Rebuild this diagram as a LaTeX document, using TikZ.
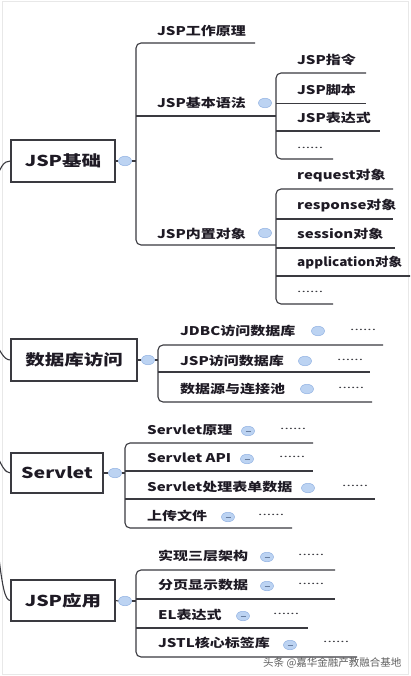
\documentclass[tikz,border=0pt]{standalone}
\usepackage{fontspec}
\setmainfont{Noto Sans CJK SC}
\usetikzlibrary{shapes.geometric}
\definecolor{ln}{HTML}{3A3A40}
\definecolor{tx}{HTML}{1E1A24}
\definecolor{bfill}{HTML}{BCD3F2}
\definecolor{bdraw}{HTML}{93B3E3}
\newcommand\wx[2][1.25]{\scalebox{#1}[1]{#2}}
\tikzset{
 line/.style={draw=ln, line width=1.1pt, rounded corners=5pt},
 rootbox/.style={draw=ln, line width=1.1pt, fill=white, inner sep=0pt, text=tx, font=\fontsize{15}{18}\selectfont\bfseries},
 topic/.style={anchor=west, inner sep=0pt, text=tx, font=\fontsize{12}{14}\selectfont\bfseries},
 more/.style={anchor=west, inner sep=0pt, text=ln, font=\fontsize{10}{11}\selectfont},
 knob/.style={ellipse, fill=bfill, draw=bdraw, line width=0.5pt, minimum width=13pt, minimum height=9.5pt, inner sep=0pt},
 knobm/.style={knob, path picture={\draw[bdraw!70!black, line width=0.5pt] ([xshift=-2.5pt]path picture bounding box.center) -- ([xshift=2.5pt]path picture bounding box.center);}},
}
\newcommand\moredots{\wx[1.55]{......}}
\begin{document}
\begin{tikzpicture}[x=1pt,y=-1pt]
\useasboundingbox (0,0) rectangle (410,676);
\clip (0,0) rectangle (410,676);
\fill[white] (0,0) rectangle (410,676);
\draw[gray!18, line width=1pt] (2,2) rectangle (408,674);

% ---------- root boxes ----------
\node[rootbox, minimum width=104pt, minimum height=42pt] (b1) at (63,161) {\wx[1.3]{JSP基础}};
\node[rootbox, minimum width=126pt, minimum height=42pt] (b2) at (74,360) {\wx[1.3]{数据库访问}};
\node[rootbox, minimum width=92pt, minimum height=40pt] (b3) at (57,473) {\wx[1.3]{Servlet}};
\node[rootbox, minimum width=104pt, minimum height=41pt] (b4) at (63,600.5) {\wx[1.3]{JSP应用}};

% left incoming curves
\coordinate (c1) at (-6,190);
\coordinate (c2) at (-9,333);
\coordinate (c3) at (-8,443);
\coordinate (c4) at (-3,540);
\draw[line] (c1) .. controls (-1,166) and (4,161) .. (b1.west);
\draw[line] (c2) .. controls (0,352) and (4,360) .. (b2.west);
\draw[line] (c3) .. controls (1,466) and (5,473) .. (b3.west);
\draw[line] (c4) .. controls (2,588) and (5,600.5) .. (b4.west);

% ---------- section 1 ----------
\node[knob] (k1) at (125,161) {};
\coordinate (j1) at (136,161);
\draw[line] (b1.east) -- (k1.west);
\draw[line] (k1.east) -- (j1);
\coordinate (a1) at (255,43);
\coordinate (a2) at (136,43);
\coordinate (a3) at (136,245);
\coordinate (a4) at (276,245);
\coordinate (am1) at (136,116);
\coordinate (am2) at (276,116);
\draw[line] (a1) -- (a2) -- (a3) -- (a4);
\draw[line] (am1) -- (am2);

\node[topic] (t11) at (157,31) {\wx{JSP工作原理}};
\node[topic] (t12) at (157,103) {\wx{JSP基本语法}};
\node[knob] (k12) at (265,103) {};
\node[topic] (t13) at (157,234) {\wx{JSP内置对象}};
\node[knob] (k13) at (265,233) {};

% sub bracket 1
\coordinate (p1) at (366,73);
\coordinate (p2) at (276,73);
\coordinate (p3) at (276,159);
\coordinate (p4) at (333,159);
\coordinate (pm1) at (276,103.5);
\coordinate (pm2) at (366,103.5);
\coordinate (pn1) at (276,131);
\coordinate (pn2) at (380,131);
\draw[line] (p1) -- (p2) -- (p3) -- (p4);
\draw[line] (pm1) -- (pm2);
\draw[line] (pn1) -- (pn2);
\node[topic] (u1) at (297,60) {\wx{JSP指令}};
\node[topic] (u2) at (297,90) {\wx{JSP脚本}};
\node[topic] (u3) at (297,118) {\wx{JSP表达式}};
\node[more] (u4) at (297,148) {\moredots};

% sub bracket 2
\coordinate (q1) at (393,189);
\coordinate (q2) at (276,189);
\coordinate (q3) at (276,304);
\coordinate (q4) at (333,304);
\coordinate (qm1) at (276,219);
\coordinate (qm2) at (393,219);
\coordinate (qn1) at (276,248);
\coordinate (qn2) at (395,248);
\coordinate (qo1) at (276,276);
\coordinate (qo2) at (412,276);
\draw[line] (q1) -- (q2) -- (q3) -- (q4);
\draw[line] (qm1) -- (qm2);
\draw[line] (qn1) -- (qn2);
\draw[line] (qo1) -- (qo2);
\node[topic] (v1) at (297,176) {\wx{request对象}};
\node[topic] (v2) at (297,206) {\wx{response对象}};
\node[topic] (v3) at (297,234) {\wx{session对象}};
\node[topic] (v4) at (297,263) {\wx[1.13]{application对象}};
\node[more] (v5) at (297,292) {\moredots};

% ---------- section 2 ----------
\node[knob] (k2) at (148,360) {};
\coordinate (j2) at (158,360);
\draw[line] (b2.east) -- (k2.west);
\draw[line] (k2.east) -- (j2);
\coordinate (d1) at (383,345);
\coordinate (d2) at (158,345);
\coordinate (d3) at (158,402);
\coordinate (d4) at (372,402);
\coordinate (dm1) at (158,372);
\coordinate (dm2) at (370,372);
\draw[line] (d1) -- (d2) -- (d3) -- (d4);
\draw[line] (dm1) -- (dm2);
\node[topic] (t21) at (180,331) {\wx{JDBC访问数据库}};
\node[knob] (k21) at (318,331) {};
\node[more] (m21) at (350,330) {\moredots};
\node[topic] (t22) at (180,361) {\wx{JSP访问数据库}};
\node[knob] (k22) at (305,361) {};
\node[more] (m22) at (337,360) {\moredots};
\node[topic] (t23) at (180,389) {\wx{数据源与连接池}};
\node[knob] (k23) at (307,389) {};
\node[more] (m23) at (338,388) {\moredots};

% ---------- section 3 ----------
\node[knob] (k3) at (115,473) {};
\coordinate (j3) at (125,473);
\draw[line] (b3.east) -- (k3.west);
\draw[line] (k3.east) -- (j3);
\coordinate (e1) at (313,443);
\coordinate (e2) at (125,443);
\coordinate (e3) at (125,528);
\coordinate (e4) at (292,528);
\coordinate (em1) at (125,471);
\coordinate (em2) at (313,471);
\coordinate (en1) at (125,499);
\coordinate (en2) at (375,499);
\draw[line] (e1) -- (e2) -- (e3) -- (e4);
\draw[line] (em1) -- (em2);
\draw[line] (en1) -- (en2);
\node[topic] (t31) at (147,430) {\wx{Servlet原理}};
\node[knobm] (k31) at (248,431) {};
\node[more] (m31) at (280,429) {\moredots};
\node[topic] (t32) at (147,458) {\wx{Servlet API}};
\node[knobm] (k32) at (247,459) {};
\node[more] (m32) at (279,457) {\moredots};
\node[topic] (t33) at (147,487) {\wx{Servlet处理表单数据}};
\node[knob] (k33) at (308,488) {};
\node[more] (m33) at (342,486) {\moredots};
\node[topic] (t34) at (147,516) {\wx{上传文件}};
\node[knobm] (k34) at (228,517) {};
\node[more] (m34) at (258,515) {\moredots};

% ---------- section 4 ----------
\node[knob] (k4) at (125,601) {};
\coordinate (j4) at (136,601);
\draw[line] (b4.east) -- (k4.west);
\draw[line] (k4.east) -- (j4);
\coordinate (f1) at (335,570);
\coordinate (f2) at (136,570);
\coordinate (f3) at (136,657);
\coordinate (f4) at (357,657);
\coordinate (fm1) at (136,599);
\coordinate (fm2) at (335,599);
\coordinate (fn1) at (136,628);
\coordinate (fn2) at (308,628);
\draw[line] (f1) -- (f2) -- (f3) -- (f4);
\draw[line] (fm1) -- (fm2);
\draw[line] (fn1) -- (fn2);
\node[topic] (t41) at (158,556) {\wx{实现三层架构}};
\node[knobm] (k41) at (267,557) {};
\node[more] (m41) at (298,555) {\moredots};
\node[topic] (t42) at (158,585) {\wx{分页显示数据}};
\node[knobm] (k42) at (267,586) {};
\node[more] (m42) at (298,584) {\moredots};
\node[topic] (t43) at (158,615) {\wx{EL表达式}};
\node[knobm] (k43) at (243,616) {};
\node[more] (m43) at (273,614) {\moredots};
\node[topic] (t44) at (158,643) {\wx{JSTL核心标签库}};
\node[knobm] (k44) at (290,645) {};
\node[more] (m44) at (323,642) {\moredots};

% watermark
\node[anchor=west, inner sep=0pt, text=gray!75!black, font=\fontsize{10.5}{12}\selectfont] (wm) at (263,663) {头条 @嘉华金融产教融合基地};
\end{tikzpicture}
\end{document}
